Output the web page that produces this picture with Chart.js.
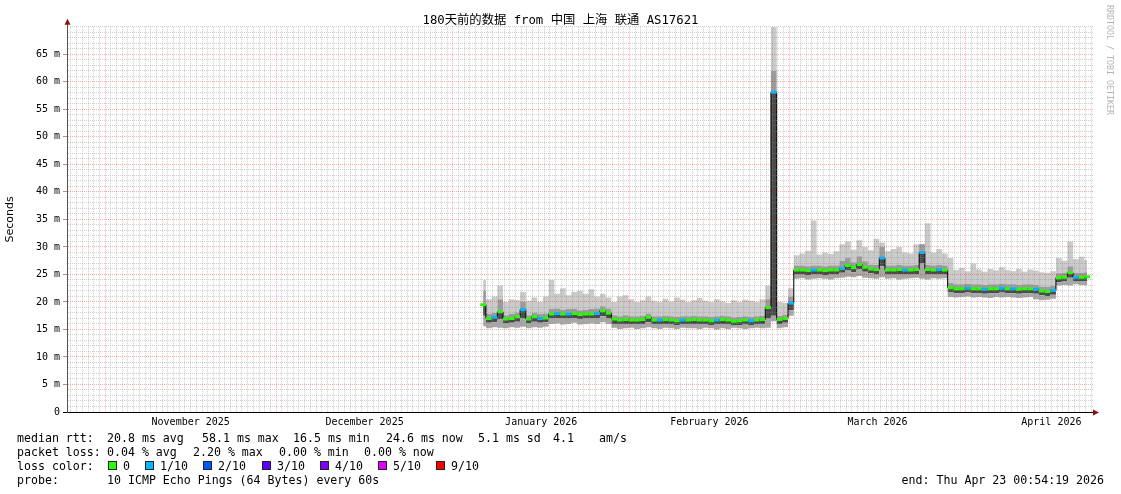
<!DOCTYPE html>
<html>
<head>
<meta charset="utf-8">
<script src="https://cdn.jsdelivr.net/npm/chart.js@4.4.1/dist/chart.umd.min.js"></script>
<style>
  body { margin: 0; background: #fff; }
  #wrap { position: relative; width: 1121px; height: 494px; overflow: hidden;
          font-family: "DejaVu Sans Mono", monospace; font-size: 11.6px; color: #000; }
  #wrap canvas { position: absolute; left: 0; top: 0; }
  .t { position: absolute; white-space: pre; line-height: 14px; }
  .sq { position: absolute; top: 461px; width: 7px; height: 7px; border: 1px solid #222; }
  #mark { position: absolute; left: 1105px; top: 5px; writing-mode: vertical-rl;
          font-size: 8.3px; color: #b4b4b4; }
</style>
</head>
<body>
<div id="wrap">
  <canvas id="smoke" width="1121" height="494"></canvas>

  <div class="t" style="left:17px;top:431px">median rtt:</div>
  <div class="t" style="left:107px;top:431px">20.8 ms avg</div>
  <div class="t" style="left:202px;top:431px">58.1 ms max</div>
  <div class="t" style="left:293px;top:431px">16.5 ms min</div>
  <div class="t" style="left:386px;top:431px">24.6 ms now</div>
  <div class="t" style="left:478px;top:431px">5.1 ms sd</div>
  <div class="t" style="left:553px;top:431px">4.1</div>
  <div class="t" style="left:599px;top:431px">am/s</div>

  <div class="t" style="left:17px;top:445px">packet loss:</div>
  <div class="t" style="left:107px;top:445px">0.04 % avg</div>
  <div class="t" style="left:193px;top:445px">2.20 % max</div>
  <div class="t" style="left:279px;top:445px">0.00 % min</div>
  <div class="t" style="left:364px;top:445px">0.00 % now</div>

  <div class="t" style="left:17px;top:459px">loss color:</div>
  <div id="lossKey"></div>

  <div class="t" style="left:17px;top:473px">probe:</div>
  <div class="t" style="left:107px;top:473px">10 ICMP Echo Pings (64 Bytes) every 60s</div>
  <div class="t" style="right:17px;top:473px">end: Thu Apr 23 00:54:19 2026</div>

  <div id="mark">RRDTOOL / TOBI OETIKER</div>
</div>

<script>
// x = days since the left edge of the graph (Sat Oct 25 2025 00:54), one value per day
const firstDay = 73;

// median rtt (ms)
const rttMedian = [
    19.5, 17.0, 17.2, 18.2, 16.9, 17.0, 17.3, 18.6, 16.9, 17.3,
    17.0, 17.1, 17.8, 17.9, 17.8, 17.8, 17.9, 17.7, 17.8, 17.8,
    17.9, 18.4, 18.0, 16.9, 16.7, 16.8, 16.7, 16.7, 16.8, 17.2,
    16.7, 16.7, 16.8, 16.7, 16.6, 16.7, 16.7, 16.8, 16.7, 16.7,
    16.6, 16.7, 16.8, 16.7, 16.5, 16.6, 16.7, 16.6, 16.7, 16.8,
    19.0, 58.1, 16.8, 17.0, 19.8, 25.8, 25.8, 25.7, 25.8, 25.8,
    25.7, 25.8, 25.8, 26.1, 26.6, 26.2, 26.8, 26.3, 26.0, 25.9,
    28.0, 25.8, 25.8, 25.9, 25.8, 25.8, 25.9, 29.0, 25.9, 25.8,
    25.9, 25.8, 22.6, 22.4, 22.4, 22.5, 22.4, 22.4, 22.3, 22.4,
    22.4, 22.5, 22.4, 22.4, 22.3, 22.4, 22.4, 22.3, 22.0, 21.9,
    22.1, 24.4, 24.5, 25.3, 24.5, 24.5, 24.6
];

// lost pings out of 10
const lossCount = [
    0, 0, 1, 0, 0, 0, 0, 1, 0, 0,
    1, 0, 0, 1, 0, 1, 0, 0, 0, 0,
    1, 0, 0, 0, 0, 0, 0, 0, 0, 0,
    0, 1, 0, 0, 0, 1, 0, 0, 0, 0,
    0, 1, 0, 0, 0, 0, 0, 1, 0, 0,
    0, 1, 0, 0, 1, 0, 0, 0, 1, 0,
    0, 0, 0, 1, 0, 0, 0, 0, 0, 0,
    1, 0, 0, 0, 1, 0, 0, 1, 0, 0,
    1, 0, 0, 0, 0, 1, 0, 0, 1, 0,
    0, 1, 0, 1, 0, 0, 0, 1, 0, 0,
    1, 0, 0, 0, 1, 0, 0
];

// smoke: fastest ping
const rttMin = [
    15.6, 15.2, 15.4, 15.3, 15.2, 15.4, 15.3, 15.5, 15.2, 15.4,
    15.3, 15.5, 16.0, 16.1, 15.9, 16.0, 16.2, 15.9, 16.0, 16.1,
    16.0, 16.3, 16.0, 15.3, 15.1, 15.2, 15.3, 15.1, 15.2, 15.4,
    15.2, 15.1, 15.3, 15.2, 15.1, 15.3, 15.2, 15.2, 15.1, 15.3,
    15.2, 15.0, 15.2, 15.1, 15.3, 15.2, 15.1, 15.2, 15.3, 15.2,
    15.3, 16.5, 15.2, 15.4, 17.5, 24.2, 24.3, 24.1, 24.2, 24.3,
    24.2, 24.1, 24.3, 24.4, 24.6, 24.5, 24.7, 24.4, 24.3, 24.2,
    24.5, 24.2, 24.3, 24.1, 24.2, 24.3, 24.4, 24.2, 24.1, 24.3,
    24.2, 24.3, 20.9, 20.8, 20.9, 21.0, 20.8, 20.9, 20.8, 20.7,
    20.9, 20.8, 20.9, 20.8, 20.7, 20.8, 20.9, 20.5, 20.3, 20.4,
    20.6, 23.0, 23.1, 23.0, 23.2, 23.1, 23.0
];

// smoke: lower edge of the dark band
const rttLow = [
    17.5, 16.2, 16.3, 16.8, 16.1, 16.2, 16.4, 17.0, 16.1, 16.4,
    16.2, 16.3, 17.0, 17.1, 17.0, 17.0, 17.1, 16.9, 17.0, 17.0,
    17.1, 17.4, 17.1, 16.0, 15.9, 16.0, 15.9, 15.9, 16.0, 16.3,
    15.9, 15.9, 16.0, 15.9, 15.8, 15.9, 15.9, 16.0, 15.9, 15.9,
    15.8, 15.9, 16.0, 15.9, 15.7, 15.8, 15.9, 15.8, 15.9, 16.0,
    17.0, 17.5, 16.0, 16.2, 18.5, 25.0, 25.0, 24.9, 25.0, 25.0,
    24.9, 25.0, 25.0, 25.3, 25.7, 25.4, 25.9, 25.5, 25.2, 25.1,
    26.5, 25.0, 25.0, 25.1, 25.0, 25.0, 25.1, 27.0, 25.1, 25.0,
    25.1, 25.0, 21.8, 21.6, 21.6, 21.7, 21.6, 21.6, 21.5, 21.6,
    21.6, 21.7, 21.6, 21.6, 21.5, 21.6, 21.6, 21.5, 21.2, 21.1,
    21.3, 23.6, 23.7, 24.4, 23.7, 23.7, 23.8
];

// smoke: upper edge of the middle band
const rttHigh = [
    22.0, 17.8, 18.0, 20.5, 17.6, 17.8, 18.1, 20.0, 17.6, 18.1,
    17.8, 17.9, 18.7, 18.8, 18.6, 18.7, 18.8, 18.5, 18.6, 18.7,
    18.8, 19.2, 18.8, 17.6, 17.4, 17.6, 17.4, 17.4, 17.5, 17.9,
    17.4, 17.4, 17.5, 17.4, 17.3, 17.4, 17.4, 17.5, 17.4, 17.4,
    17.3, 17.4, 17.5, 17.4, 17.2, 17.3, 17.4, 17.3, 17.4, 17.5,
    20.5, 62.0, 17.5, 17.7, 21.0, 26.6, 26.6, 26.5, 26.6, 26.6,
    26.5, 26.6, 26.6, 27.5, 28.0, 27.2, 28.3, 27.4, 26.8, 26.7,
    30.0, 26.6, 26.6, 26.7, 26.6, 26.6, 26.7, 30.5, 26.7, 26.6,
    26.7, 26.6, 23.5, 23.2, 23.2, 23.3, 23.2, 23.2, 23.1, 23.2,
    23.2, 23.3, 23.2, 23.2, 23.1, 23.2, 23.2, 23.1, 22.8, 22.7,
    22.9, 25.2, 25.3, 26.5, 25.3, 25.3, 25.4
];

// smoke: slowest ping
const rttMax = [
    24.0, 20.5, 21.0, 23.0, 20.0, 20.5, 20.3, 21.8, 20.2, 20.8,
    20.0, 21.0, 24.0, 21.5, 22.5, 21.2, 21.8, 22.0, 21.5, 22.3,
    21.0, 21.5, 20.8, 20.0, 21.0, 21.2, 20.5, 20.0, 20.3, 21.0,
    20.2, 20.0, 20.6, 20.1, 20.8, 20.4, 20.0, 20.3, 20.7, 20.2,
    20.0, 20.5, 20.1, 19.8, 20.3, 20.0, 20.4, 20.2, 20.0, 20.5,
    23.0, 70.0, 20.0, 19.8, 22.5, 28.5, 28.8, 29.3, 34.8, 28.6,
    29.0, 28.7, 29.2, 30.5, 31.0, 29.5, 31.2, 30.0, 29.4, 31.5,
    30.8, 29.2, 29.6, 30.0, 29.0, 28.8, 30.5, 29.4, 34.3, 29.0,
    29.6, 28.8, 28.0, 25.8, 26.2, 25.6, 27.0, 25.9, 25.5, 26.0,
    25.7, 26.3, 25.8, 25.6, 26.0, 25.5, 25.9, 25.7, 25.4, 25.3,
    25.6, 28.0, 27.5, 31.0, 27.8, 28.2, 27.6
];

// month grid (day offsets of the 1st of each month) and labels (mid month)
const monthStarts = [6.7, 36.7, 67.7, 98.7, 126.7, 157.7];
const monthMids = [21.7, 52.2, 83.2, 112.7, 142.2, 172.7];
const monthNames = ['November 2025', 'December 2025', 'January 2026', 'February 2026', 'March 2026', 'April 2026'];

const lossLabels = ['0', '1/10', '2/10', '3/10', '4/10', '5/10', '9/10'];
const lossColors = ['#26ff00', '#00b8ff', '#0059ff', '#5e00ff', '#7e00ff', '#dd00ff', '#ff0000'];
const lossKeyX = [108, 145, 203, 262, 320, 378, 436];

const minorGrid = 'rgba(140,140,140,0.42)';
const majorGrid = 'rgba(255,0,0,0.32)';
const fontMono = '"DejaVu Sans Mono", monospace';

// legend for the loss colours
const lossKey = document.getElementById('lossKey');
lossLabels.forEach((lbl, i) => {
    const sq = document.createElement('div');
    sq.className = 'sq';
    sq.style.left = lossKeyX[i] + 'px';
    sq.style.background = lossColors[i];
    lossKey.appendChild(sq);
    const tx = document.createElement('div');
    tx.className = 't';
    tx.style.left = (lossKeyX[i] + 15) + 'px';
    tx.style.top = '459px';
    tx.textContent = lbl;
    lossKey.appendChild(tx);
});

const pts = arr => arr.map((v, i) => ({ x: firstDay + i, y: v }));
const near = (list, v) => list.some(m => Math.abs(m - v) < 0.01);

function smoke(arr, color) {
    return {
        data: pts(arr),
        stepped: 'middle',
        borderWidth: 0,
        pointRadius: 0,
        fill: color ? '-1' : false,
        backgroundColor: color || 'transparent',
        order: 5
    };
}

// arrows at the end of both axes, rrdtool style
const axisArrows = {
    id: 'axisArrows',
    afterDraw(chart) {
        const { ctx, chartArea: a } = chart;
        const x0 = Math.round(a.left) + 0.5;
        const y0 = Math.round(a.bottom) + 0.5;
        ctx.save();
        ctx.strokeStyle = '#555';
        ctx.lineWidth = 1;
        ctx.beginPath();
        ctx.moveTo(x0, a.top);
        ctx.lineTo(x0, a.top - 4);
        ctx.stroke();
        ctx.strokeStyle = '#000';
        ctx.beginPath();
        ctx.moveTo(a.right, y0);
        ctx.lineTo(a.right + 2, y0);
        ctx.stroke();
        ctx.fillStyle = '#8b1010';
        ctx.beginPath();
        ctx.moveTo(x0, a.top - 8);
        ctx.lineTo(x0 - 3, a.top - 2);
        ctx.lineTo(x0 + 3, a.top - 2);
        ctx.closePath();
        ctx.fill();
        ctx.beginPath();
        ctx.moveTo(a.right + 6, y0);
        ctx.lineTo(a.right, y0 - 3);
        ctx.lineTo(a.right, y0 + 3);
        ctx.closePath();
        ctx.fill();
        ctx.restore();
    }
};

new Chart(document.getElementById('smoke'), {
    type: 'line',
    data: {
        datasets: [
            smoke(rttMin, null),
            smoke(rttLow, '#a8a8a8'),
            smoke(rttMedian, '#4a4a4a'),
            smoke(rttHigh, '#9c9c9c'),
            smoke(rttMax, '#cbcbcb'),
            {
                data: pts(rttMedian),
                stepped: 'middle',
                borderColor: '#000',
                borderWidth: 1,
                pointRadius: 0,
                fill: false,
                order: 1
            },
            {
                data: pts(rttMedian),
                showLine: false,
                pointStyle: 'line',
                pointRadius: 2.85,
                pointBorderWidth: 3,
                pointBorderColor: lossCount.map(n => lossColors[n]),
                pointBackgroundColor: lossCount.map(n => lossColors[n]),
                order: 0
            }
        ]
    },
    options: {
        responsive: false,
        animation: false,
        events: [],
        layout: { padding: 0 },
        plugins: {
            legend: { display: false },
            tooltip: { enabled: false },
            title: {
                display: true,
                text: '180天前的数据 from 中国 上海 联通 AS17621',
                color: '#000',
                font: { family: '"DejaVu Sans Mono", "Noto Sans CJK SC", monospace', size: 12.3, weight: 'normal', lineHeight: 1 },
                padding: { top: 14.5, bottom: 0 }
            }
        },
        scales: {
            x: {
                type: 'linear',
                min: 0,
                max: 180,
                afterFit(scale) { scale.height = 82; },
                afterBuildTicks(scale) {
                    const vals = [];
                    for (let d = monthStarts[0] % 1; d <= 180; d += 1) vals.push(+d.toFixed(2));
                    monthMids.forEach(m => { if (!near(vals, m)) vals.push(m); });
                    vals.sort((a, b) => a - b);
                    scale.ticks = vals.map(v => ({ value: v }));
                },
                grid: {
                    z: 1,
                    drawTicks: false,
                    lineWidth: 1,
                    color: (c) => {
                        if (!c.tick) return 'transparent';
                        const v = c.tick.value;
                        if (near(monthStarts, v)) return majorGrid;
                        const f = v - monthStarts[0];
                        return Math.abs(f - Math.round(f)) < 0.01 ? minorGrid : 'transparent';
                    }
                },
                border: { display: true, color: '#000', width: 1, dash: [1, 1], z: 2 },
                ticks: {
                    autoSkip: false,
                    maxRotation: 0,
                    minRotation: 0,
                    padding: 4,
                    color: '#000',
                    font: { family: fontMono, size: 10 },
                    callback: (v) => {
                        const i = monthMids.findIndex(m => Math.abs(m - v) < 0.01);
                        return i >= 0 ? monthNames[i] : '';
                    }
                }
            },
            y: {
                type: 'linear',
                min: 0,
                max: 70,
                afterFit(scale) { scale.width = 67; },
                title: {
                    display: true,
                    text: 'Seconds',
                    color: '#000',
                    font: { family: '"DejaVu Sans", sans-serif', size: 11 },
                    padding: { top: 4, bottom: 0 }
                },
                grid: {
                    z: 1,
                    drawTicks: true,
                    tickLength: 4,
                    lineWidth: 1,
                    color: (c) => {
                        if (!c.tick) return 'transparent';
                        const v = c.tick.value;
                        if (v === 0) return 'transparent';
                        return v % 5 === 0 && v < 70 ? majorGrid : minorGrid;
                    },
                    tickColor: (c) => {
                        if (!c.tick) return 'transparent';
                        const v = c.tick.value;
                        if (v === 0) return '#000';
                        return v % 5 === 0 && v < 70 ? '#999' : 'transparent';
                    }
                },
                border: { display: true, color: '#555', width: 1, dash: [1, 1], z: 2 },
                ticks: {
                    stepSize: 1,
                    autoSkip: false,
                    padding: 3,
                    color: '#000',
                    font: { family: fontMono, size: 10 },
                    callback: (v) => (v % 5 === 0 && v < 70) ? (v === 0 ? '0' : v + ' m') : ''
                }
            },
            // empty strip on the right so the plot ends where the reference does
            right: {
                type: 'linear',
                position: 'right',
                afterFit(scale) { scale.width = 28; },
                grid: { display: false, drawTicks: false },
                border: { display: false },
                ticks: { display: false }
            }
        }
    },
    plugins: [axisArrows]
});
</script>
</body>
</html>
